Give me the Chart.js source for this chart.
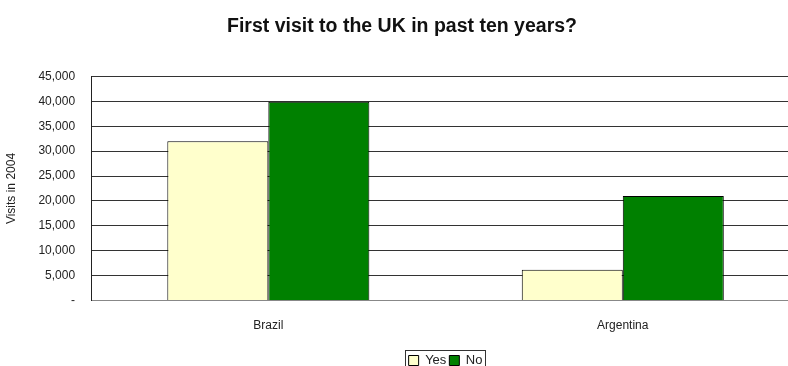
<!DOCTYPE html>
<html>
<head>
<meta charset="utf-8">
<script src="https://cdn.jsdelivr.net/npm/chart.js@4"></script>
<style>
  html, body { margin: 0; padding: 0; background: #fff; overflow: hidden; }
  #wrap { position: absolute; left: 0; top: 0; width: 800px; height: 366px; overflow: hidden; }
</style>
</head>
<body>
<div id="wrap"><canvas id="visitsChart" width="800" height="377"></canvas></div>
<script>
/* ===============================
   DATA
================================ */
const countries = ["Brazil", "Argentina"];
const yesVisits = [32000, 6200];
const noVisits = [39900, 21000];
const seriesNames = ["Yes", "No"];
const yTicks = [0, 5000, 10000, 15000, 20000, 25000, 30000, 35000, 40000, 45000];

const FONT = "'Liberation Sans', Arial, sans-serif";

/* box drawn round the legend items */
const legendFrame = {
  id: "legendFrame",
  afterDraw(chart) {
    const boxes = chart.legend && chart.legend.legendHitBoxes;
    if (!boxes || !boxes.length) return;
    const first = boxes[0];
    const last = boxes[boxes.length - 1];
    const ctx = chart.ctx;
    ctx.save();
    ctx.strokeStyle = "#333";
    ctx.lineWidth = 1;
    const x1 = Math.round(first.left - 4) + 0.5;
    const x2 = Math.round(last.left + last.width + 3) + 0.5;
    const y1 = Math.round(first.top - 4) + 0.5;
    const y2 = Math.round(first.top + first.height + 4) + 0.5;
    ctx.strokeRect(x1, y1, x2 - x1, y2 - y1);
    ctx.restore();
  },
};

const ctx = document.getElementById("visitsChart");
new Chart(ctx, {
  type: "bar",
  data: {
    labels: countries,
    datasets: [
      {
        label: seriesNames[0],
        data: yesVisits,
        backgroundColor: "#FFFFCC",
        borderColor: "#000",
        borderWidth: 1,
      },
      {
        label: seriesNames[1],
        data: noVisits,
        backgroundColor: "#008000",
        borderColor: "#000",
        borderWidth: 1,
      },
    ],
  },
  options: {
    responsive: false,
    animation: false,
    devicePixelRatio: 1,
    layout: { padding: { left: 4, right: 0, top: 0, bottom: 0 } },
    datasets: {
      bar: { barPercentage: 1, categoryPercentage: 0.57 },
    },
    plugins: {
      title: {
        display: true,
        text: "First visit to the UK in past ten years?",
        color: "#111",
        font: { family: FONT, size: 19.5, weight: "bold" },
        padding: { top: 15, bottom: 38 },
      },
      legend: {
        position: "bottom",
        fullSize: false,
        labels: {
          color: "#222",
          font: { family: FONT, size: 13 },
          boxWidth: 10,
          boxHeight: 10,
          padding: 3,
          useBorderRadius: false,
        },
      },
      tooltip: { enabled: false },
    },
    scales: {
      x: {
        grid: { display: false, drawTicks: false },
        border: { color: "#888", width: 1 },
        ticks: {
          color: "#222",
          font: { family: FONT, size: 12 },
          padding: 18,
        },
      },
      y: {
        min: 0,
        max: 45000,
        afterBuildTicks(scale) {
          scale.ticks = yTicks.map((v) => ({ value: v }));
        },
        grid: { color: "#333", drawTicks: false },
        border: { color: "#222", width: 1 },
        ticks: {
          color: "#222",
          font: { family: FONT, size: 12 },
          padding: 16,
          callback: (v) => (v === 0 ? "-" : v.toLocaleString("en-US")),
        },
        title: {
          display: true,
          text: "Visits in 2004",
          color: "#222",
          font: { family: FONT, size: 12 },
          padding: { top: 0, bottom: 4 },
        },
      },
    },
  },
  plugins: [legendFrame],
});
</script>
</body>
</html>
